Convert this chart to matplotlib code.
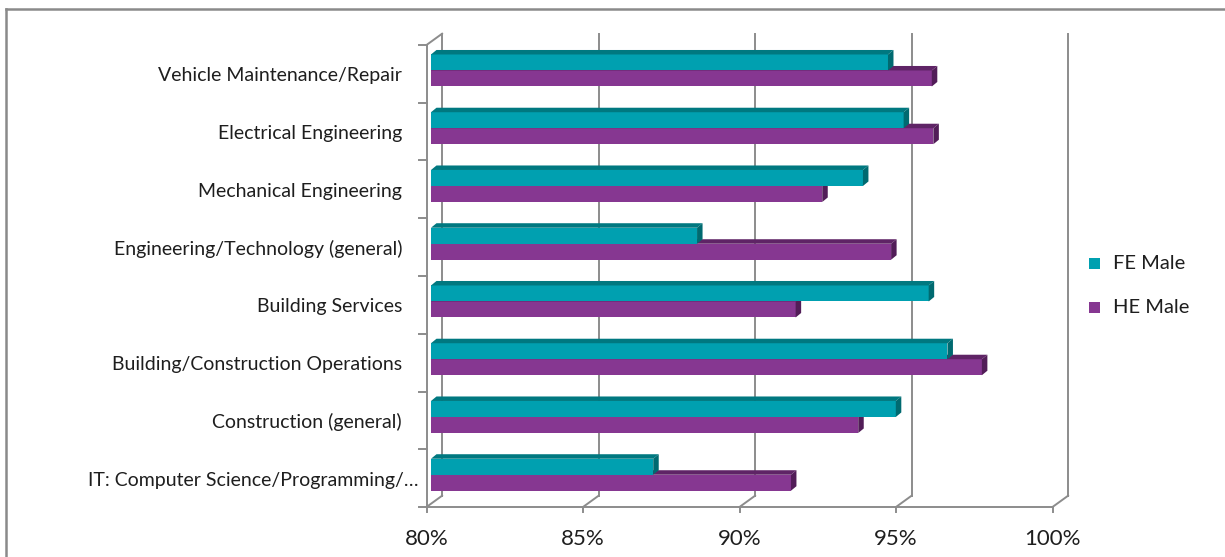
import matplotlib
matplotlib.use("Agg")
import matplotlib.pyplot as plt
from matplotlib.transforms import ScaledTranslation
from matplotlib.patches import Polygon, Rectangle
from matplotlib.lines import Line2D

# ---- data -------------------------------------------------------------
categories = [
    "IT: Computer Science/Programming/\u2026",
    "Construction (general)",
    "Building/Construction Operations",
    "Building Services",
    "Engineering/Technology (general)",
    "Mechanical Engineering",
    "Electrical Engineering",
    "Vehicle Maintenance/Repair",
]
fe_male = [87.1, 94.85, 96.5, 95.9, 88.5, 93.8, 95.1, 94.6]
he_male = [91.5, 93.65, 97.6, 91.65, 94.7, 92.5, 96.05, 96.0]
series_names = ["FE Male", "HE Male"]
x_ticks = [80, 85, 90, 95, 100]
x_tick_labels = ["80%", "85%", "90%", "95%", "100%"]

# ---- style ------------------------------------------------------------
W, H, DPI = 1225, 557, 100
TEAL, TEAL_TOP, TEAL_SIDE = "#00A0B0", "#007880", "#006A70"
PURP, PURP_TOP, PURP_SIDE = "#863791", "#5F2466", "#521D58"
GRID = "#8C8C8C"
TEXT = "#1E1E1E"
FONT = ["Lato", "DejaVu Sans"]

fig = plt.figure(figsize=(W / DPI, H / DPI), dpi=DPI)
fig.patch.set_facecolor("white")

# plane of the bars (pixel box converted to figure fractions)
left_px, right_px, top_px, bot_px = 431, 1057, 41.6, 503.6
ax = fig.add_axes([left_px / W, (H - bot_px) / H,
                   (right_px - left_px) / W, (bot_px - top_px) / H])
ax.set_xlim(80, 100)
ymin, ymax = -0.5, len(categories) - 0.5
ax.set_ylim(ymin, ymax)
ax.axis("off")


def shifted(dx_px, dy_px):
    """Data transform moved by a pixel offset (depth of the 3-D box)."""
    return ax.transData + ScaledTranslation(dx_px / DPI, dy_px / DPI,
                                            fig.dpi_scale_trans)


FRONT = (-4.5, -3.4)
BACK = (11.1, 7.9)
front = shifted(*FRONT)
back = shifted(*BACK)
lw = 1.4


def px_line(p0, p1, **kw):
    """Line between two display points in pixels (origin bottom-left)."""
    fig.add_artist(Line2D([p0[0] / W, p1[0] / W], [p0[1] / H, p1[1] / H],
                          transform=fig.transFigure, color=GRID, lw=lw,
                          zorder=1, **kw))


# back wall gridlines
for x in x_ticks:
    ax.add_line(Line2D([x, x], [ymin, ymax], color=GRID, lw=lw,
                       transform=back, clip_on=False, zorder=1))

# floor: front axis line, depth edges, tick marks and labels
ax.add_line(Line2D([80, 100], [ymin, ymin], color=GRID, lw=lw,
                   transform=front, clip_on=False, zorder=1))
for x, lab in zip(x_ticks, x_tick_labels):
    f = front.transform((x, ymin))
    b = back.transform((x, ymin))
    px_line(f, b)
    px_line(f, (f[0], f[1] - 5))
    ax.text(x, ymin, lab, transform=shifted(FRONT[0], FRONT[1] - 38),
            ha="center", va="baseline", fontsize=16, family=FONT,
            color=TEXT)

# left wall: front edge, top depth edge and category ticks
f_top = front.transform((80, ymax))
f_bot = front.transform((80, ymin))
px_line(f_bot, f_top)
px_line(f_top, back.transform((80, ymax)))
for k in range(len(categories) + 1):
    p = front.transform((80, ymin + k))
    px_line((p[0] - 8, p[1]), p)

# ---- bars ---------------------------------------------------------------
band_px = (bot_px - top_px) / len(categories)
bar_h = 16 / band_px
ddx = 5.5 * 20 / (right_px - left_px)
ddy = 4.5 / band_px


def box(values, offset, face, top, side, z):
    ys = [i + offset + bar_h / 2 for i in range(len(values))]
    ax.barh(ys, [v - 80 for v in values], left=80, height=bar_h,
            color=face, edgecolor="none", zorder=z, clip_on=False)
    for y, v in zip(ys, values):
        y0, y1 = y - bar_h / 2, y + bar_h / 2
        ax.add_patch(Polygon([(80, y1), (v, y1), (v + ddx, y1 + ddy),
                              (80 + ddx, y1 + ddy)], closed=True,
                             facecolor=top, edgecolor="none", zorder=z,
                             clip_on=False))
        ax.add_patch(Polygon([(v, y0), (v + ddx, y0 + ddy),
                              (v + ddx, y1 + ddy), (v, y1)], closed=True,
                             facecolor=side, edgecolor="none", zorder=z,
                             clip_on=False))


box(he_male, -bar_h, PURP, PURP_TOP, PURP_SIDE, 3)
box(fe_male, 0.0, TEAL, TEAL_TOP, TEAL_SIDE, 4)

# ---- category labels -------------------------------------------------------
for i, name in enumerate(categories):
    dx = -13 if name.endswith("\u2026") else -29
    ax.text(80, i, name, transform=shifted(dx, FRONT[1] - 7.5),
            ha="right", va="baseline", fontsize=14, family=FONT,
            color=TEXT)

# ---- legend -------------------------------------------------------------------
for name, col, base in zip(series_names, [TEAL, PURP], [269, 313]):
    fig.add_artist(Rectangle((1089 / W, (H - base) / H), 11 / W, 11 / H,
                             transform=fig.transFigure, facecolor=col,
                             edgecolor="none"))
    fig.text(1113 / W, (H - base) / H, name, ha="left", va="baseline",
             fontsize=14.5, family=FONT, color=TEXT)

# ---- chart border -----------------------------------------------------------
border = "#8A8A8A"
fig.add_artist(Line2D([6 / W, 1], [(H - 9) / H, (H - 9) / H],
                      transform=fig.transFigure, color=border, lw=1.8))
fig.add_artist(Line2D([6 / W, 6 / W], [(H - 9) / H, 0],
                      transform=fig.transFigure, color=border, lw=1.8))

fig.savefig("out.png", dpi=DPI, facecolor="white")
